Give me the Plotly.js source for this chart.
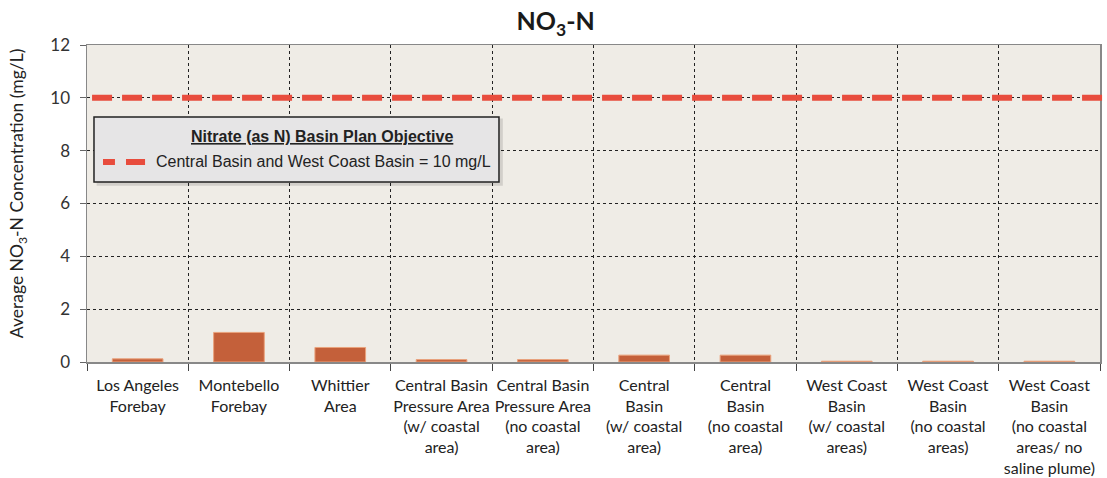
<!DOCTYPE html>
<html><head><meta charset="utf-8">
<script src="https://cdn.plot.ly/plotly-3.0.1.min.js"></script>
<style>body{margin:0;background:#fff}#chart{width:1107px;height:478px}</style>
</head><body><div id="chart"></div>
<script>
const categories = [
  "Los Angeles<br>Forebay",
  "Montebello<br>Forebay",
  "Whittier<br>Area",
  "Central Basin<br>Pressure Area<br>(w/ coastal<br>area)",
  "Central Basin<br>Pressure Area<br>(no coastal<br>area)",
  "Central<br>Basin<br>(w/ coastal<br>area)",
  "Central<br>Basin<br>(no coastal<br>area)",
  "West Coast<br>Basin<br>(w/ coastal<br>areas)",
  "West Coast<br>Basin<br>(no coastal<br>areas)",
  "West Coast<br>Basin<br>(no coastal<br>areas/ no<br>saline plume)"
];
const no3Values = [0.12, 1.12, 0.55, 0.09, 0.09, 0.26, 0.26, 0.03, 0.03, 0.03];
const objectiveValue = [10];
const objectiveLabel = "Central Basin and West Coast Basin = 10 mg/L";
const legendTitle = "Nitrate (as N) Basin Plan Objective";
const yAxisTitle = "Average NO<sub>3</sub>-N Concentration (mg/L)";
const yTicks = [0, 2, 4, 6, 8, 10, 12];

const red = '#e84c3d';
const font = 'Lato, "Open Sans", sans-serif';
const arial = '"Liberation Sans", Arial, sans-serif';
const data = [{
  type: 'bar',
  x: categories,
  y: no3Values,
  width: 0.5,
  marker: {color: '#c4603a', line: {color: '#eaa27c', width: 1}},
  showlegend: false,
  hoverinfo: 'x+y'
}];

const layout = {
  width: 1107, height: 478,
  margin: {l: 87, r: 7, t: 45, b: 116},
  paper_bgcolor: '#ffffff',
  plot_bgcolor: '#efece6',
  title: {text: '<b>NO<sub>3</sub>-N</b>', x: 0.502, xref: 'container', xanchor: 'center', y: 0.955, yanchor: 'middle',
          font: {family: font, size: 25, color: '#1a1a1a'}},
  xaxis: {
    type: 'category',
    tickson: 'boundaries',
    showgrid: true, gridcolor: '#222', griddash: 'dot', gridwidth: 1,
    ticks: 'outside', ticklen: 7, tickcolor: '#444',
    showline: true, linecolor: '#888', linewidth: 1.5, mirror: true,
    tickfont: {family: font, size: 16, color: '#222'},
    tickangle: 0,
    ticklabelstandoff: 8,
    fixedrange: true
  },
  yaxis: {
    range: [0, 12],
    tickvals: yTicks,
    ticks: 'outside', ticklen: 6, tickcolor: '#666',
    showgrid: true, gridcolor: '#222', griddash: 'dot', gridwidth: 1,
    zeroline: false,
    showline: true, linecolor: '#888', linewidth: 1.5, mirror: true,
    tickfont: {family: font, size: 17, color: '#333'},
    ticklabelstandoff: 6,
    fixedrange: true
  },
  shapes: [
    {type: 'line', xref: 'paper', yref: 'y', x0: 0.005, x1: 1.005, y0: objectiveValue[0], y1: objectiveValue[0],
     line: {color: red, width: 6, dash: '20px,10px'}, layer: 'above'},
    {type: 'rect', xref: 'paper', yref: 'paper', x0: 0.0095, x1: 0.4105, y0: 0.556, y1: 0.768,
     fillcolor: 'rgba(0,0,0,0.12)', line: {width: 0}, layer: 'above'},
    {type: 'rect', xref: 'paper', yref: 'paper', x0: 0.0069, x1: 0.4067, y0: 0.568, y1: 0.773,
     fillcolor: '#e6e5e6', line: {color: '#222', width: 1.5}, layer: 'above'},
    {type: 'line', xref: 'paper', yref: 'paper', x0: 0.0158, x1: 0.0276, y0: 0.631, y1: 0.631,
     line: {color: red, width: 6}, layer: 'above'},
    {type: 'line', xref: 'paper', yref: 'paper', x0: 0.0385, x1: 0.0573, y0: 0.631, y1: 0.631,
     line: {color: red, width: 6}, layer: 'above'}
  ],
  annotations: [
    {xref: 'paper', yref: 'paper', x: 0.232, y: 0.710, xanchor: 'center', yanchor: 'middle', showarrow: false,
     text: '<b><u>' + legendTitle + '</u></b>',
     font: {family: arial, size: 16, color: '#222'}},
    {xref: 'paper', yref: 'paper', x: 0.066, y: 0.631, xanchor: 'left', yanchor: 'middle', showarrow: false,
     text: objectiveLabel,
     font: {family: arial, size: 16, color: '#222'}},
    {xref: 'paper', yref: 'paper', x: -0.068, y: 0.533, xanchor: 'center', yanchor: 'middle', showarrow: false,
     textangle: -90, text: yAxisTitle,
     font: {family: font, size: 17.5, color: '#222'}}
  ]
};

Plotly.newPlot('chart', data, layout, {displayModeBar: false, staticPlot: true});
</script>
</body></html>
